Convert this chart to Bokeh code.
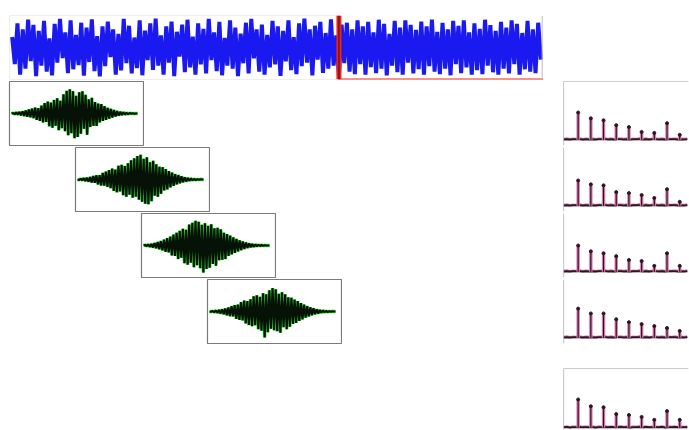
from bokeh.plotting import figure
from bokeh.layouts import column, row
from bokeh.models import Spacer, Span, Range1d, BoxAnnotation
from bokeh.embed import file_html
from bokeh.resources import INLINE

# ---- data ----
signal = [
    0.35, -0.55, 0.8, -0.9, 0.6, -0.7, 0.92, -0.45, 0.75, -0.95,
    0.55, -0.6, 0.88, -0.8, 0.3, -0.92, 0.78, -0.5, 0.95, -0.35,
    0.5, -0.85, 0.9, -0.72, 0.42, -0.58, 0.82, -0.93, 0.66, -0.48,
    0.93, -0.78, 0.38, -0.96, 0.7, -0.62, 0.86, -0.32, 0.6, -0.9,
    0.45, -0.76, 0.95, -0.52, 0.72, -0.86, 0.33, -0.68, 0.9, -0.92,
    0.56, -0.42, 0.8, -0.74, 0.96, -0.6, 0.4, -0.9, 0.7, -0.5,
    0.86, -0.95, 0.52, -0.3, 0.76, -0.82, 0.92, -0.66, 0.36, -0.9,
    0.8, -0.56, 0.62, -0.86, 0.95, -0.42, 0.5, -0.78, 0.85, -0.92,
    0.32, -0.6, 0.9, -0.7, 0.66, -0.95, 0.46, -0.52, 0.82, -0.86,
    0.95, -0.36, 0.6, -0.8, 0.76, -0.9, 0.42, -0.66, 0.88, -0.56,
    0.7, -0.94, 0.55, -0.46, 0.9, -0.75, 0.34, -0.88, 0.8, -0.62,
    0.96, -0.5, 0.6, -0.92, 0.72, -0.4, 0.85, -0.84, 0.48, -0.7,
    0.93, -0.6, 0.4, -0.95, 0.76, -0.52,
    0.82, -0.8, 0.6, -0.88, 0.9, -0.55, 0.7, -0.9, 0.85, -0.65,
    0.5, -0.85, 0.92, -0.7, 0.78, -0.92, 0.45, -0.6, 0.88, -0.82,
    0.66, -0.9, 0.9, -0.5, 0.75, -0.86, 0.58, -0.72, 0.86, -0.9,
    0.7, -0.62, 0.92, -0.8, 0.52, -0.88, 0.82, -0.7, 0.6, -0.92,
    0.88, -0.55, 0.72, -0.85, 0.9, -0.66, 0.5, -0.9, 0.8, -0.75,
    0.62, -0.88, 0.92, -0.6, 0.74, -0.82, 0.55, -0.9, 0.85, -0.7,
    0.66, -0.86, 0.9, -0.55, 0.78, -0.9, 0.48, -0.72, 0.88, -0.8,
    0.6, -0.85, 0.82, -0.4,
]
current_frame_sample = 123

window_1 = [
    0.0, 0.02, -0.03, 0.04, -0.04, 0.06, -0.07, 0.09, -0.1, 0.12,
    -0.13, 0.16, -0.15, 0.2, -0.19, 0.24, -0.26, 0.22, -0.3, 0.32,
    -0.36, 0.42, -0.34, 0.48, -0.52, 0.44, -0.58, 0.55, -0.5, 0.62,
    -0.68, 0.52, -0.6, 0.78, -0.72, 0.92, -0.88, 0.98, -0.8, 0.9,
    -1.0, 0.72, -0.95, 0.86, -0.82, 0.9, -0.62, 0.76, -0.86, 0.58,
    -0.55, 0.64, -0.5, 0.46, -0.5, 0.4, -0.36, 0.38, -0.3, 0.3,
    -0.26, 0.23, -0.21, 0.19, -0.16, 0.14, -0.12, 0.1, -0.09, 0.07,
    -0.06, 0.05, -0.04, 0.03, -0.03, 0.02, -0.01, 0.01, -0.01, 0.0, 0.0,
]
window_2 = [
    0.0, -0.02, 0.03, -0.03, 0.05, -0.06, 0.07, -0.09, 0.1, -0.12,
    0.14, -0.13, 0.17, -0.2, 0.18, -0.24, 0.27, -0.25, 0.32, -0.3,
    0.38, -0.35, 0.44, -0.46, 0.4, -0.52, 0.56, -0.48, 0.6, -0.64,
    0.55, -0.7, 0.66, -0.62, 0.78, -0.74, 0.86, -0.7, 0.95, -0.82,
    1.0, -0.9, 0.84, -0.98, 0.9, -1.0, 0.7, -0.88, 0.76, -0.66,
    0.62, -0.7, 0.52, -0.58, 0.5, -0.44, 0.42, -0.4, 0.34, -0.32,
    0.28, -0.26, 0.22, -0.2, 0.18, -0.15, 0.13, -0.11, 0.09, -0.08,
    0.06, -0.05, 0.04, -0.03, 0.02, -0.02, 0.01, -0.01, 0.01, 0.0, 0.0,
]
window_3 = [
    0.0, 0.02, -0.02, 0.04, -0.05, 0.06, -0.08, 0.1, -0.11, 0.14,
    -0.15, 0.18, -0.2, 0.24, -0.26, 0.3, -0.28, 0.36, -0.4, 0.44,
    -0.42, 0.52, -0.55, 0.6, -0.5, 0.68, -0.72, 0.64, -0.78, 0.85,
    -0.7, 0.92, -0.88, 1.0, -0.8, 0.96, -0.92, 0.84, -1.1, 0.9,
    -0.95, 0.8, -0.9, 0.86, -0.75, 0.7, -0.82, 0.72, -0.6, 0.66,
    -0.58, 0.52, -0.55, 0.46, -0.42, 0.4, -0.36, 0.33, -0.3, 0.27,
    -0.24, 0.21, -0.19, 0.16, -0.14, 0.12, -0.1, 0.09, -0.07, 0.06,
    -0.05, 0.04, -0.03, 0.03, -0.02, 0.02, -0.01, 0.01, 0.0, 0.0, 0.0,
]
window_4 = [
    0.0, -0.01, 0.02, -0.03, 0.04, -0.05, 0.06, -0.08, 0.09, -0.11,
    0.12, -0.15, 0.16, -0.19, 0.22, -0.2, 0.26, -0.3, 0.28, -0.34,
    0.38, -0.36, 0.44, -0.48, 0.42, -0.55, 0.5, -0.6, 0.62, -0.56,
    0.66, -0.72, 0.6, -0.78, 0.74, -1.05, 0.7, -0.84, 0.86, -0.7,
    0.95, -0.76, 0.9, -0.8, 0.72, -0.86, 0.78, -0.64, 0.7, -0.72,
    0.58, -0.62, 0.56, -0.5, 0.48, -0.46, 0.42, -0.38, 0.34, -0.32,
    0.28, -0.25, 0.22, -0.2, 0.17, -0.15, 0.13, -0.11, 0.09, -0.08,
    0.06, -0.05, 0.04, -0.03, 0.02, -0.02, 0.01, -0.01, 0.01, 0.0, 0.0,
]
windows = [window_1, window_2, window_3, window_4]

harmonics = [1, 2, 3, 4, 5, 6, 7, 8, 9]
spectrum_1 = [28, 22, 20, 15, 13, 8, 7, 17, 5]
spectrum_2 = [26, 22, 21, 14, 13, 11, 8, 17, 4]
spectrum_3 = [27, 21, 19, 16, 12, 11, 6, 19, 6]
spectrum_4 = [30, 25, 25, 19, 16, 14, 12, 10, 7]
spectrum_5 = [29, 22, 21, 14, 13, 11, 8, 17, 8]
spectra = [spectrum_1, spectrum_2, spectrum_3, spectrum_4, spectrum_5]
floor_noise = [0.6, 1.2, 0.4, 1.0, 0.8, 1.4, 0.5, 1.1, 0.7, 1.3,
               0.4, 1.0, 0.9, 1.5, 0.6, 1.2, 0.5, 0.9, 1.3, 0.7,
               1.1, 0.4, 1.0, 0.8, 1.4, 0.6, 1.2, 0.5, 0.9, 1.1,
               0.7, 1.3, 0.4, 1.0, 0.8, 1.2, 0.6, 1.0, 0.7, 1.1]

# ---- styling ----
BLUE = "#1a1af0"
GREEN = "#2ee82e"
PINK = "#e27fb2"
DARK = "#2b1722"
GREY = "#8a8a8a"
RED = "#ee2418"


def base_fig(w, h, xr, yr):
    p = figure(width=w, height=h, x_range=xr, y_range=yr,
               output_backend="svg", toolbar_location=None,
               x_axis_location=None, y_axis_location=None,
               min_border=1, outline_line_color=None,
               background_fill_color="white", border_fill_color="white")
    p.grid.visible = False
    return p


# top waveform
n = len(signal)
top = base_fig(536, 66, Range1d(-1, n), Range1d(-1.06, 1.06))
top.line(list(range(n)), signal, line_color=BLUE, line_width=4)
top.add_layout(BoxAnnotation(left=-1, right=current_frame_sample, bottom=-1.06, top=1.06,
                             fill_alpha=0, line_color=GREY, line_width=1.2))
top.segment(x0=[current_frame_sample], x1=[n], y0=[-1.05], y1=[-1.05], line_color=RED, line_width=1.5)
top.segment(x0=[n - 0.5], x1=[n - 0.5], y0=[-1.05], y1=[1.05], line_color="#bbbbbb", line_width=1)
top.add_layout(Span(location=current_frame_sample, dimension="height", line_color=RED, line_width=5))
top.add_layout(Span(location=current_frame_sample, dimension="height", line_color="#3a0a20", line_width=1))

# windowed frames
offsets = [0, 66, 132, 198]
green_items = []
for w, off in zip(windows, offsets):
    m = len(w)
    g = base_fig(136, 66, Range1d(-1.3, m - 1 + 3.8), Range1d(-1.3, 1.3))
    g.outline_line_color = "#7a7a7a"
    g.outline_line_width = 1.2
    xs = list(range(m))
    g.line(xs, w, line_color=GREEN, line_width=3.4)
    g.line(xs, w, line_color="#061206", line_width=2.1)
    green_items.append(row(Spacer(width=8 + off, height=66), g))
left_col = column(*green_items)


# spectra
def spec_fig(vals, h, yr, top_border):
    s = base_fig(128, h, Range1d(-2 / 13, 126 / 13), yr)
    s.min_border_left = 2
    s.add_layout(Span(location=-2 / 13, dimension="height", line_color="#9a9a9a", line_width=1.2))
    if top_border:
        s.add_layout(Span(location=yr.end, dimension="width", line_color="#9a9a9a", line_width=1.2))
    fx = [-0.15 + 0.25 * i for i in range(len(floor_noise))]
    s.line(fx, floor_noise, line_color=PINK, line_width=2.5)
    s.line(fx, [v * 0.4 for v in floor_noise], line_color=DARK, line_width=2)
    s.segment(x0=harmonics, x1=harmonics, y0=[0] * len(vals), y1=vals, line_color=PINK, line_width=3.5)
    s.segment(x0=harmonics, x1=harmonics, y0=[0] * len(vals), y1=vals, line_color=DARK, line_width=1.2)
    s.scatter(harmonics, vals, size=3, color=DARK)
    return s


spec_items = []
for i, vals in enumerate(spectra[:4]):
    spec_items.append(spec_fig(vals, 66, Range1d(-6, 60), i == 0))
spec_items.append(Spacer(width=128, height=23))
spec_items.append(spec_fig(spectra[4], 63, Range1d(-2, 61), True))
right_col = column(*spec_items)

body = row(left_col, Spacer(width=219, height=10), right_col)
page = column(Spacer(width=689, height=14), row(Spacer(width=8, height=66), top), body)

open("out.html", "w").write(file_html(page, INLINE))
